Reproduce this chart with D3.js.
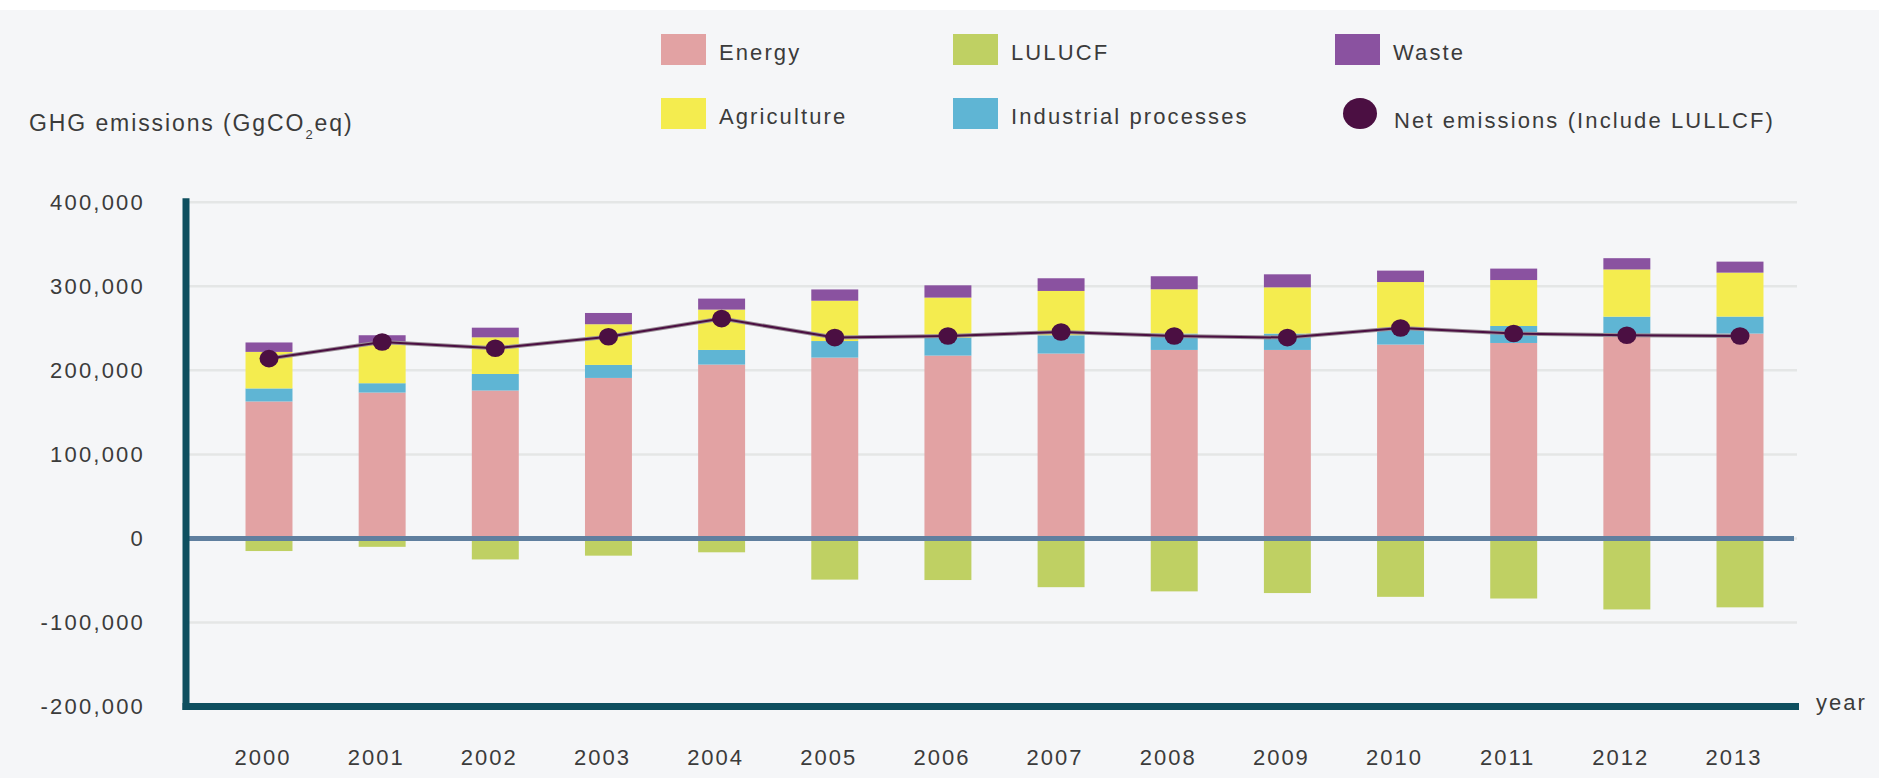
<!DOCTYPE html>
<meta charset="utf-8">
<style>
  body { margin: 0; background: #ffffff; }
  svg text { font-family: "Liberation Sans", Arial, sans-serif; fill: #3b3b3b; }
</style>
<svg width="1879" height="778"></svg>
<script src="https://cdn.jsdelivr.net/npm/d3@7/dist/d3.min.js"></script>
<script>

// data (GgCO2eq)
var years = ["2000","2001","2002","2003","2004","2005","2006","2007","2008","2009","2010","2011","2012","2013"];
var energy      = [163000,173600,176000,191000,206900,215200,217600,220000,224300,224300,230700,232600,241700,243800];
var industrial  = [15500,11100,19700,15500,17400,19700,21400,21800,19500,19500,19400,20200,22200,20200];
var agriculture = [43500,46400,43600,48400,48000,48000,47600,52700,52700,55000,55000,54700,56200,52300];
var waste       = [11200,10700,11500,13400,13100,13400,14600,15100,15500,15500,13600,13600,13400,13100];
var lulucf      = [-15000,-10000,-25000,-20500,-16500,-49000,-49500,-58000,-63000,-65000,-69500,-71500,-84500,-82000];
var net         = [214000,233800,226300,240000,261600,239000,240900,245700,240900,239000,250400,243800,241700,240900];

var yTicks = [400000, 300000, 200000, 100000, 0, -100000, -200000];
var stackKeys = ["Energy", "Industrial processes", "Agriculture", "Waste"];
var legendRow1 = ["Energy", "LULUCF", "Waste"];
var legendRow2 = ["Agriculture", "Industrial processes", "Net emissions (Include LULLCF)"];

var color = {
  "Energy": "#e2a2a3",
  "Industrial processes": "#5fb5d4",
  "Agriculture": "#f4ec4f",
  "Waste": "#8a52a0",
  "LULUCF": "#bfd063",
  "Net emissions (Include LULLCF)": "#4b0f42"
};

var svg = d3.select("svg");
var W = +svg.attr("width"), H = +svg.attr("height");

svg.append("rect").attr("width", W).attr("height", H).attr("fill", "#ffffff");
svg.append("rect").attr("y", 10).attr("width", W).attr("height", H - 10).attr("fill", "#f5f6f8");

var axisLeftX = 186, axisRightX = 1799;

var x = d3.scaleBand()
  .domain(years)
  .range([186, 1823])
  .paddingInner(0.585)
  .paddingOuter(0.526);

var y = d3.scaleLinear()
  .domain([-200000, 400000])
  .range([706.5, 202.3]);

// grid
svg.append("g")
  .selectAll("line")
  .data(yTicks.filter(function(d) { return d > -200000; }))
  .enter().append("line")
  .attr("x1", axisLeftX).attr("x2", 1797)
  .attr("y1", function(d) { return y(d); })
  .attr("y2", function(d) { return y(d); })
  .attr("stroke", "#e4e6e6")
  .attr("stroke-width", 2.5);

// y labels
var fmt = d3.format(",");
var yAxis = svg.append("g")
  .attr("transform", "translate(" + axisLeftX + ",0)")
  .call(d3.axisLeft(y).tickValues(yTicks).tickSize(0).tickPadding(41)
    .tickFormat(function(d) { return fmt(d).replace("\u2212", "-"); }));
yAxis.select(".domain").remove();
yAxis.selectAll("text")
  .attr("font-size", 22)
  .style("letter-spacing", "2.2px")
  .attr("fill", "#3b3b3b");

// stacked bars
var rows = years.map(function(yr, i) {
  return { year: yr, "Energy": energy[i], "Industrial processes": industrial[i],
           "Agriculture": agriculture[i], "Waste": waste[i] };
});
var stacked = d3.stack().keys(stackKeys)(rows);

svg.append("g")
  .selectAll("g")
  .data(stacked)
  .enter().append("g")
  .attr("fill", function(d) { return color[d.key]; })
  .selectAll("rect")
  .data(function(d) { return d; })
  .enter().append("rect")
  .attr("x", function(d) { return x(d.data.year); })
  .attr("width", x.bandwidth())
  .attr("y", function(d) { return y(d[1]); })
  .attr("height", function(d) { return y(d[0]) - y(d[1]); });

// LULUCF (negative)
svg.append("g")
  .selectAll("rect")
  .data(lulucf)
  .enter().append("rect")
  .attr("x", function(d, i) { return x(years[i]); })
  .attr("width", x.bandwidth())
  .attr("y", y(0))
  .attr("height", function(d) { return y(d) - y(0); })
  .attr("fill", color["LULUCF"]);

// zero line
svg.append("line")
  .attr("x1", axisLeftX).attr("x2", 1794)
  .attr("y1", y(0)).attr("y2", y(0))
  .attr("stroke", "#5f7f9f")
  .attr("stroke-width", 5);

// axes
svg.append("line")
  .attr("x1", axisLeftX).attr("x2", axisLeftX)
  .attr("y1", y(400000) - 4).attr("y2", y(-200000) + 3.5)
  .attr("stroke", "#0e4f5f").attr("stroke-width", 7);
svg.append("line")
  .attr("x1", axisLeftX - 3.5).attr("x2", axisRightX)
  .attr("y1", y(-200000)).attr("y2", y(-200000))
  .attr("stroke", "#0e4f5f").attr("stroke-width", 7);

svg.append("text")
  .attr("x", 1816).attr("y", 710)
  .attr("font-size", 22)
  .style("letter-spacing", "2px")
  .text("year");

// x labels
svg.append("g")
  .selectAll("text")
  .data(years)
  .enter().append("text")
  .attr("x", function(d) { return x(d) + x.bandwidth() / 2 - 6; })
  .attr("y", 765)
  .attr("text-anchor", "middle")
  .attr("font-size", 22)
  .style("letter-spacing", "2px")
  .text(function(d) { return d; });

// net emissions line + dots
var line = d3.line()
  .x(function(d, i) { return x(years[i]) + x.bandwidth() / 2; })
  .y(function(d) { return y(d); });

svg.append("path")
  .datum(net)
  .attr("fill", "none")
  .attr("stroke", "#9a8e96")
  .attr("stroke-width", 4)
  .attr("d", line);
svg.append("path")
  .datum(net)
  .attr("fill", "none")
  .attr("stroke", "#4b0f42")
  .attr("stroke-width", 2)
  .attr("d", line);

svg.append("g")
  .selectAll("ellipse")
  .data(net)
  .enter().append("ellipse")
  .attr("cx", function(d, i) { return x(years[i]) + x.bandwidth() / 2; })
  .attr("cy", function(d) { return y(d); })
  .attr("rx", 9.5)
  .attr("ry", 8.8)
  .attr("fill", color["Net emissions (Include LULLCF)"]);

// y title
var title = svg.append("text")
  .attr("x", 29).attr("y", 131)
  .attr("font-size", 23)
  .style("letter-spacing", "1.9px");
title.append("tspan").text("GHG emissions (GgCO");
title.append("tspan").attr("font-size", 13).attr("dy", 8).text("2");
title.append("tspan").attr("dy", -8).text("eq)");

// legend
var legendX = [661, 953, 1335];
var legendY = [34, 98];
[legendRow1, legendRow2].forEach(function(row, r) {
  row.forEach(function(name, c) {
    var g = svg.append("g").attr("transform", "translate(" + legendX[c] + "," + legendY[r] + ")");
    if (name.indexOf("Net") === 0) {
      g.append("ellipse")
        .attr("cx", 25).attr("cy", 15.5)
        .attr("rx", 17).attr("ry", 15.5)
        .attr("fill", color[name]);
      g.append("text").attr("x", 59).attr("y", 30)
        .attr("font-size", 22).style("letter-spacing", "2.1px").text(name);
    } else {
      g.append("rect")
        .attr("width", 45).attr("height", 31)
        .attr("fill", color[name]);
      g.append("text").attr("x", 58).attr("y", 26)
        .attr("font-size", 22).style("letter-spacing", "2.1px").text(name);
    }
  });
});

</script>
